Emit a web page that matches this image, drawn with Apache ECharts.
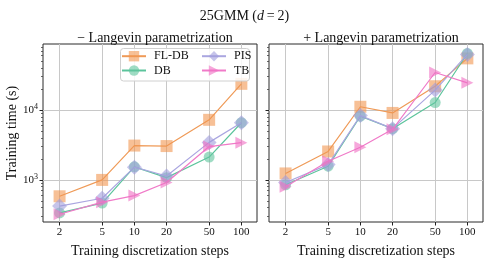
<!DOCTYPE html>
<html><head><meta charset="utf-8">
<script src="https://cdn.jsdelivr.net/npm/echarts@6/dist/echarts.min.js"></script>
<style>html,body{margin:0;padding:0;background:#fff}#c{width:489px;height:263px}</style>
</head><body><div id="c"></div>
<script>
const steps = [2, 5, 10, 20, 50, 100];
// - Langevin parametrization
const flNoLang = [583, 1000, 3100, 3050, 7240, 23700];
const dbNoLang = [337, 466, 1540, 1077, 2123, 6580];
const pisNoLang = [422, 547, 1522, 1138, 3444, 6580];
const tbNoLang = [323, 480, 597, 917, 3000, 3410];
const flNoLangLow = [565, 970, 3020, 2980, 7050, 10200];
const flNoLangHigh = [600, 1030, 3180, 3120, 7450, 27500];
// + Langevin parametrization
const flLang = [1238, 2553, 11130, 9080, 21900, 54800];
const dbLang = [851, 1572, 8160, 5410, 12800, 64400];
const pisLang = [917, 1655, 8320, 5410, 19270, 62500];
const tbLang = [797, 1846, 2930, 5300, 34400, 24500];
// axis ticks
const xTickLabels = [2, 5, 10, 20, 50, 100];
const yMajorTicks = [1000, 10000];
const yMinorTicks = [300, 400, 500, 600, 700, 800, 900, 2000, 3000, 4000, 5000, 6000, 7000, 8000, 9000, 20000, 30000, 40000, 50000, 60000, 70000, 80000];
const xLim = [1.4, 140];
const yLim = [250, 88000];
const panelTitles = ['\u2212 Langevin parametrization', '+ Langevin parametrization'];

const L = Math.log10;
const pts = v => steps.map((s, i) => [L(s), L(v[i])]);
const FONT = 'Liberation Serif';
const C = {
  fl: {line: '#ef9a57', fill: 'rgba(242,150,80,0.6)'},
  db: {line: '#5cc49c', fill: 'rgba(95,196,156,0.6)'},
  pis: {line: '#aaa6e0', fill: 'rgba(160,156,220,0.6)'},
  tb: {line: '#f07ac8', fill: 'rgba(240,110,195,0.6)'}
};
const sym = {
  fl: {symbol: 'rect', symbolSize: 12},
  db: {symbol: 'circle', symbolSize: 11},
  pis: {symbol: 'diamond', symbolSize: [15, 15]},
  tb: {symbol: 'triangle', symbolSize: 12, symbolRotate: -90}
};
function line(name, key, vals, gi, z) {
  return Object.assign({
    type: 'line', name: name, xAxisIndex: gi, yAxisIndex: gi * 2, data: pts(vals),
    lineStyle: {color: C[key].line, width: 1.2},
    itemStyle: {color: C[key].fill, borderWidth: 0},
    z: z, animation: false
  }, sym[key]);
}
const series = [];
// FL-DB band (left)
series.push({type: 'line', xAxisIndex: 0, yAxisIndex: 0, stack: 'band', symbol: 'none',
  data: steps.map((s, i) => [L(s), L(flNoLangLow[i])]), lineStyle: {opacity: 0}, silent: true, z: 1, animation: false});
series.push({type: 'line', xAxisIndex: 0, yAxisIndex: 0, stack: 'band', symbol: 'none',
  data: steps.map((s, i) => [L(s), L(flNoLangHigh[i]) - L(flNoLangLow[i])]), lineStyle: {opacity: 0},
  areaStyle: {color: 'rgba(242,150,80,0.2)'}, silent: true, z: 1, animation: false});
series.push(line('FL-DB', 'fl', flNoLang, 0, 2));
series.push(line('DB', 'db', dbNoLang, 0, 3));
series.push(line('PIS', 'pis', pisNoLang, 0, 4));
series.push(line('TB', 'tb', tbNoLang, 0, 5));
series.push(line('FL-DB', 'fl', flLang, 1, 2));
series.push(line('DB', 'db', dbLang, 1, 3));
series.push(line('PIS', 'pis', pisLang, 1, 4));
series.push(line('TB', 'tb', tbLang, 1, 5));

const grids = [
  {left: 43, top: 44, width: 214, height: 181},
  {left: 269, top: 44, width: 214, height: 181}
].map(g => Object.assign(g, {show: true, borderColor: '#2a2a2a', borderWidth: 1, backgroundColor: 'transparent'}));

const xAxes = [0, 1].map(gi => ({
  type: 'value', gridIndex: gi, min: L(xLim[0]), max: L(xLim[1]),
  axisLine: {show: false},
  axisTick: {show: true, customValues: xTickLabels.map(L), length: 3.5, inside: false, lineStyle: {color: '#222'}},
  axisLabel: {customValues: xTickLabels.map(L), formatter: v => String(Math.round(Math.pow(10, v))),
    fontFamily: FONT, fontSize: 11, color: '#111', margin: 5},
  splitLine: {show: true, lineStyle: {color: '#c8c8c8', width: 1}},
  name: 'Training discretization steps', nameLocation: 'middle', nameGap: 22,
  nameTextStyle: {fontFamily: FONT, fontSize: 14, color: '#111'}
}));

const yAxes = [];
[0, 1].forEach(gi => {
  yAxes.push({
    type: 'value', gridIndex: gi, min: L(yLim[0]), max: L(yLim[1]), position: 'left',
    axisLine: {show: false},
    axisTick: {show: true, customValues: yMajorTicks.map(L), length: 3.5, lineStyle: {color: '#222'}},
    axisLabel: {show: gi === 0, customValues: yMajorTicks.map(L),
      formatter: v => '{n|10}{s|' + Math.round(v) + '}',
      rich: {n: {fontFamily: FONT, fontSize: 11, color: '#111'},
             s: {fontFamily: FONT, fontSize: 8, color: '#111', padding: [0, 0, 7, 0]}},
      margin: 5},
    splitLine: {show: true, lineStyle: {color: '#c8c8c8', width: 1}},
    name: gi === 0 ? 'Training time (s)' : '', nameLocation: 'middle', nameGap: 24,
    nameTextStyle: {fontFamily: FONT, fontSize: 14, color: '#111'}
  });
  yAxes.push({
    type: 'value', gridIndex: gi, min: L(yLim[0]), max: L(yLim[1]), position: 'left',
    axisLine: {show: false},
    axisTick: {show: true, customValues: yMinorTicks.map(L), length: 2, lineStyle: {color: '#444', width: 0.8}},
    axisLabel: {show: false}, splitLine: {show: false}
  });
});

const legendCommon = {orient: 'vertical', itemWidth: 24, itemHeight: 13, itemGap: 2.3, padding: 0, z: 6,
  textStyle: {fontFamily: FONT, fontSize: 12, color: '#111', padding: [0, 0, 0, 3]}};

const option = {
  backgroundColor: '#fff',
  animation: false,
  title: [
    {text: '{a|25GMM (}{i|d}{a|\u2009=\u20092)}', left: 'center', top: 4,
     textStyle: {fontWeight: 'normal', rich: {a: {fontFamily: FONT, fontSize: 14, fontWeight: 'normal', color: '#111'},
                        i: {fontFamily: FONT, fontSize: 14, fontStyle: 'italic', fontWeight: 'normal', color: '#111'}}}},
    {text: panelTitles[0], left: 150, top: 26, textAlign: 'center',
     textStyle: {fontFamily: FONT, fontSize: 14, fontWeight: 'normal', color: '#111'}},
    {text: panelTitles[1], left: 376, top: 26, textAlign: 'center',
     textStyle: {fontFamily: FONT, fontSize: 14, fontWeight: 'normal', color: '#111'}}
  ],
  grid: grids,
  xAxis: xAxes,
  yAxis: yAxes,
  legend: [
    Object.assign({left: 121, top: 50.2, data: ['FL-DB', 'DB']}, legendCommon),
    Object.assign({left: 201, top: 50.2, data: ['PIS', 'TB']}, legendCommon)
  ],
  graphic: [{type: 'rect', shape: {x: 120.5, y: 48.5, width: 129, height: 32.5, r: 3},
    style: {fill: 'rgba(255,255,255,0.85)', stroke: '#d0d0d0', lineWidth: 1}, z: 5}],
  series: series
};
const chart = echarts.init(document.getElementById('c'), null, {renderer: 'canvas'});
chart.setOption(option);
</script></body></html>
